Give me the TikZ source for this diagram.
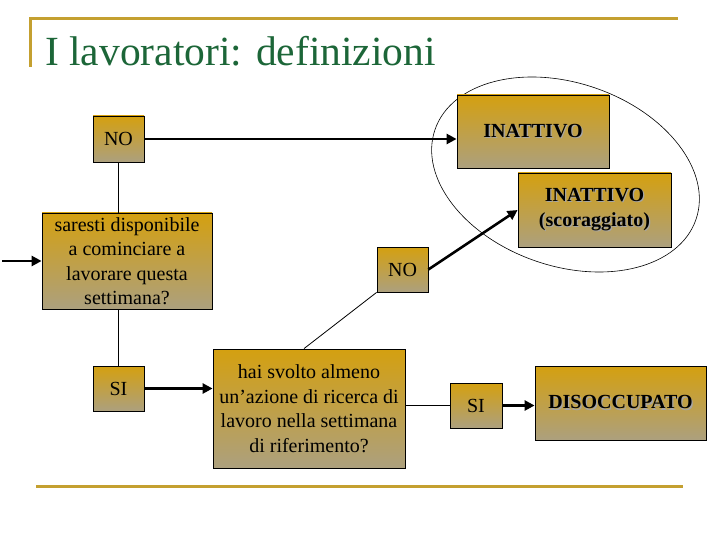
\documentclass[tikz,border=0pt]{standalone}
\usepackage{fontspec}
\setmainfont{Liberation Serif}
\usepackage{tikz}
\usetikzlibrary{
    shapes.geometric, arrows, arrows.meta, positioning
}

\definecolor{titlegreen}{RGB}{28,102,56}
\definecolor{rulegold}{RGB}{196,160,48}
\definecolor{boxgold}{RGB}{212,160,16}
\definecolor{boxtan}{RGB}{172,160,126}

\newcommand{\shadowed}[1]{\leavevmode\rlap{\kern1.2pt\raisebox{-1.2pt}{\textcolor{black!35}{#1}}}#1}

\begin{document}
\begin{tikzpicture}[x=1pt, y=1pt, node distance=120pt]

    % Define styles for the nodes
    \tikzstyle{answer} = [
        rectangle, draw=black, line width=0.8pt, align=center,
        top color=boxgold, bottom color=boxtan,
        minimum width=51pt, minimum height=45pt, inner sep=2pt,
        font=\fontsize{20}{24.5}\selectfont
    ]
    \tikzstyle{question} = [answer]
    \tikzstyle{outcome} = [
        answer, minimum width=152pt, minimum height=73pt,
        font=\fontsize{20}{24.5}\selectfont\bfseries
    ]
    \tikzstyle{arrow} = [line width=2.6pt,->,>={Triangle[length=10pt,width=10pt]}]
    \tikzstyle{link} = [line width=0.8pt]
    \tikzstyle{rule} = [rulegold, line width=3pt]

    \useasboundingbox (0,0) rectangle (720,-540);

    % Title and rules
    \draw [rule] (30,-67) -- (30,-18.3) -- (678,-18.3);
    \draw [rule] (36,-486) -- (683,-486);
    \node (title) [anchor=base west, inner sep=0pt, text=titlegreen,
        font=\fontsize{41.5}{48}\selectfont] at (45,-66) {I lavoratori: definizioni};

    % Ring round the inactive cases
    \draw [line width=0.6pt, rotate around={-19:(565.5,-174.5)}]
        (565.5,-174.5) ellipse [x radius=138, y radius=91.5];

    % Nodes
    \node (no1) [answer, minimum height=46pt] at (118.5,-139) {NO};
    \node (sar) [question, below of=no1, xshift=8.5pt, yshift=-2pt,
        minimum width=170pt, minimum height=96pt]
        {saresti disponibile\\a cominciare a\\lavorare questa\\settimana?};
    \node (si1) [answer, below of=sar, xshift=-8.5pt, yshift=-7.5pt] {SI};
    \node (hai) [question, right of=si1, xshift=70.5pt, yshift=-20pt,
        minimum width=192pt, minimum height=119pt]
        {hai svolto almeno\\un’azione di ricerca di\\lavoro nella settimana\\di riferimento?};
    \node (no2) [answer, above of=hai, xshift=93.5pt, yshift=19pt] {NO};
    \node (si2) [answer, right of=hai, xshift=47pt, yshift=3pt, minimum width=52pt] {SI};
    \node (dis) [outcome, right of=si2, xshift=24.5pt, yshift=2.5pt,
        minimum width=171pt, minimum height=74pt] {\shadowed{DISOCCUPATO}};
    \node (scor) [outcome, above of=dis, xshift=-26pt, yshift=73pt,
        minimum width=153pt, minimum height=74pt]
        {\shadowed{INATTIVO}\\\shadowed{(scoraggiato)}};
    \node (inatt) [outcome, above of=scor, xshift=-61.5pt, yshift=-41.5pt] {\shadowed{INATTIVO}};
    \coordinate (entry) at (2,-261);

    % Arrows
    \draw [arrow] (entry) -- (sar.west);
    \draw [link] (sar.north -| no1.south) -- (no1.south);
    \draw [link] (sar.south -| si1.north) -- (si1.north);
    \draw [arrow] (no1.east) -- (no1.east -| inatt.west);
    \draw [arrow] (si1.east) -- (si1.east -| hai.west);
    \draw [link] ([xshift=-5pt]hai.north) -- (no2.south west);
    \draw [arrow] (no2.east) -- (scor.west);
    \draw [link] (hai.east |- si2.west) -- (si2.west);
    \draw [arrow] (si2.east) -- (si2.east -| dis.west);

\end{tikzpicture}
\end{document}
